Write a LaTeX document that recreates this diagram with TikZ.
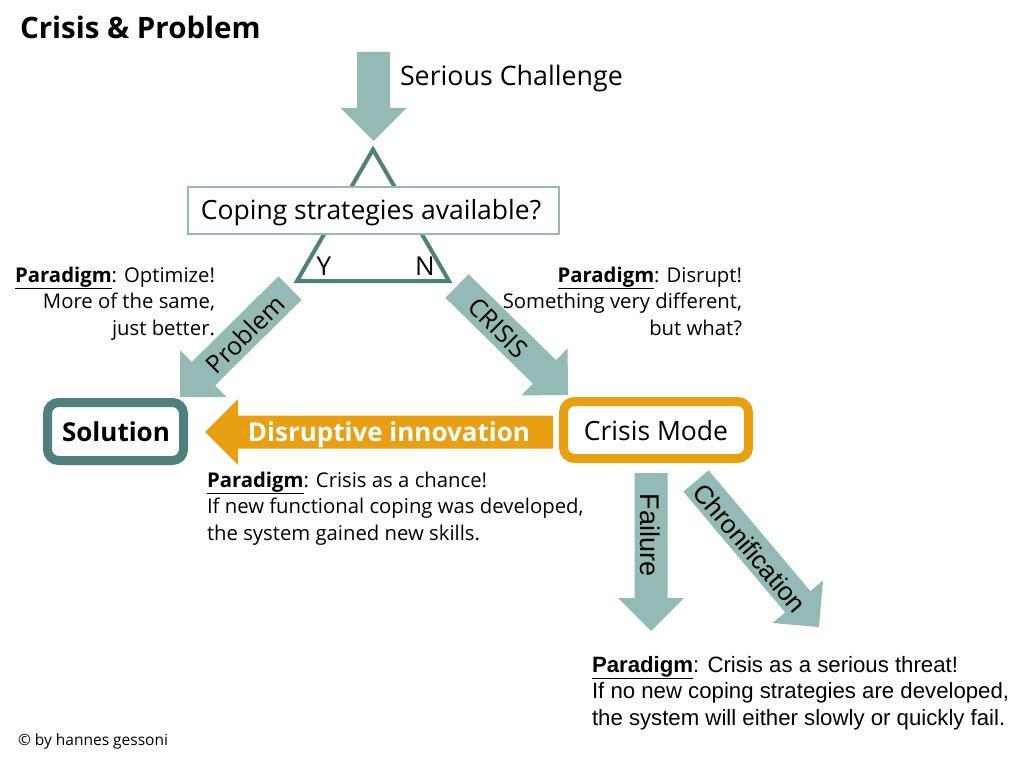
\documentclass[tikz,border=0pt]{standalone}
\usepackage{fontspec}
\setmainfont{Open Sans}
\newfontfamily\arialf{Liberation Sans}
\usetikzlibrary{calc}
\definecolor{lteal}{RGB}{147,186,181}
\definecolor{dteal}{RGB}{80,128,124}
\definecolor{orng}{RGB}{232,160,18}
\newcommand\fs[1]{\fontsize{#1}{1.2\dimexpr #1pt\relax}\selectfont}
% block arrow from coordinate #1 (tail centre) to coordinate #2 (tip)
\newcommand\blockarrow[3]{%
  \coordinate (#1H) at ($(#2)!33pt!(#1)$);
  \fill[#3] ($(#1)!16.5pt!90:(#2)$) -- ($(#1H)!16.5pt!-90:(#1)$)
    -- ($(#1H)!33pt!-90:(#1)$) -- (#2) -- ($(#1H)!33pt!90:(#1)$)
    -- ($(#1H)!16.5pt!90:(#1)$) -- ($(#1)!16.5pt!-90:(#2)$) -- cycle;}
\tikzset{
  plain/.style={inner sep=0pt, outer sep=0pt},
  boxstyle/.style={rounded corners=11pt, line width=9pt, fill=white, minimum width=136pt, minimum height=58pt, inner sep=0pt},
  para/.style={plain, font=\fontsize{20.3}{26.5}\selectfont},
}
\begin{document}
\begin{tikzpicture}[x=1pt,y=-1pt]
\useasboundingbox (0,0) rectangle (1024,759);
\fill[white] (0,0) rectangle (1024,759);

% title
\node[plain, anchor=base west, font=\fs{29.5}\bfseries] (title) at (20,39) {Crisis \& Problem};

% triangle
\coordinate (apex) at (373,149.5);
\coordinate (tl) at (297,281);
\coordinate (tr) at (449,281);
\draw[dteal, line width=4pt] (apex) -- (tl) -- (tr) -- cycle;
\node[plain, font=\fs{26}] (ylab) at (324,266.5) {Y};
\node[plain, font=\fs{26}] (nlab) at (425,266.5) {N};

% question box
\node[draw=lteal, line width=1.3pt, fill=white, minimum width=371pt, minimum height=47pt, inner sep=0pt] (coping) at (373.5,210.5) {};
\node[plain, anchor=base, font=\fs{26.5}] (copingtxt) at (371,219) {Coping strategies available?};

% arrows
\coordinate (sA) at (373.5,52);  \coordinate (sB) at (373.5,141);
\coordinate (pA) at (290,288);   \coordinate (pB) at (180,397);
\coordinate (cA) at (457,286);   \coordinate (cB) at (568,395);
\coordinate (dA) at (553,432);   \coordinate (dB) at (205,432);
\coordinate (fA) at (651,473);   \coordinate (fB) at (651,631);
\coordinate (hA) at (696,481);   \coordinate (hB) at (819,627);
\blockarrow{sA}{sB}{lteal}
\blockarrow{pA}{pB}{lteal}
\blockarrow{cA}{cB}{lteal}
\blockarrow{dA}{dB}{orng}
\blockarrow{fA}{fB}{lteal}
\blockarrow{hA}{hB}{lteal}

\node[plain, anchor=base west, font=\fs{26.8}] (serious) at (400,86) {Serious Challenge};
\node[plain, rotate=45, font=\fs{25}] (problbl) at (245,334) {Problem};
\node[plain, rotate=-45, font=\fs{25}] (crisislbl) at (498,328) {CRISIS};
\node[plain, anchor=base, font=\fs{26}\bfseries, text=white] (disrlbl) at (389,441) {Disruptive innovation};
\node[plain, rotate=-90, font=\arialf\fs{27}] (faillbl) at (650,535) {Failure};
\node[plain, rotate=-50, font=\arialf\fs{26}] (chronlbl) at (750,548) {Chronification};

% result boxes
\node[boxstyle, draw=dteal] (solution) at (115.5,431.5) {};
\node[plain, anchor=base, font=\fs{26}\bfseries] (soltxt) at (116,441) {Solution};
\node[boxstyle, draw=orng, minimum width=185pt, minimum height=57pt] (crisismode) at (656,430) {};
\node[plain, anchor=base, font=\fs{26.5}] (cmtxt) at (656,440.5) {Crisis Mode};

% paradigm texts (anchor = baseline of last line)
\node[para, anchor=base east, align=right] (par1) at (215,335)
  {\underline{\textbf{Paradigm}}: Optimize!\\More of the same,\\just better.};
\node[para, anchor=base east, align=right] (par2) at (742,335)
  {\underline{\textbf{Paradigm}}: Disrupt!\\Something very different,\\but what?};
\node[para, anchor=base west, align=left] (par3) at (207,540)
  {\underline{\textbf{Paradigm}}: Crisis as a chance!\\If new functional coping was developed,\\the system gained new skills.};
\node[plain, anchor=base west, align=left, font=\arialf\fontsize{22.2}{26.5}\selectfont] (par4) at (592,725)
  {\underline{\textbf{Paradigm}}: Crisis as a serious threat!\\If no new coping strategies are developed,\\the system will either slowly or quickly fail.};

\node[plain, anchor=base west, font=\fs{15.5}] (copy) at (18,745) {© by hannes gessoni};
\end{tikzpicture}
\end{document}
